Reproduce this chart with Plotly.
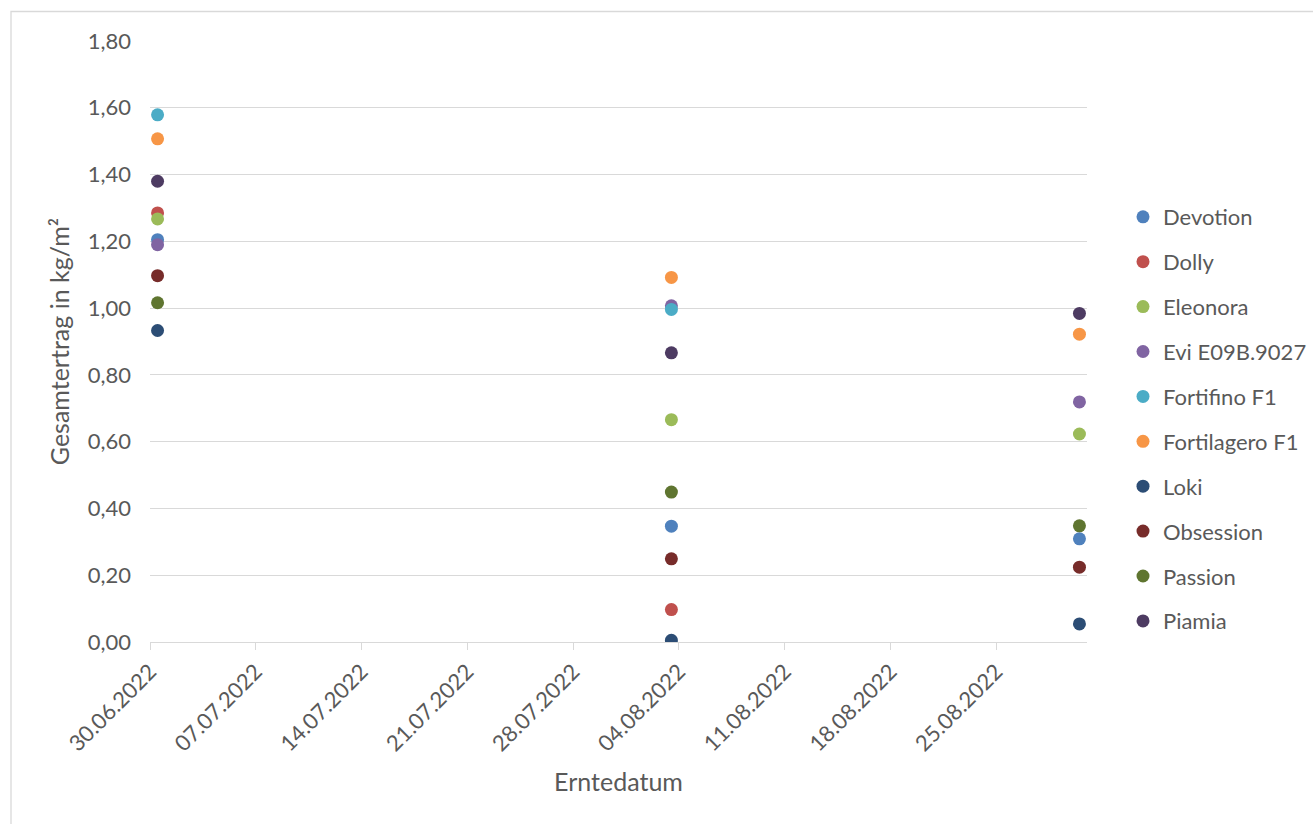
import pandas as pd
import plotly.graph_objects as go

# Harvest dates and total yield (kg/m²) per variety
harvest_dates = ["2022-06-30", "2022-08-03", "2022-08-30"]

varieties = [
    "Devotion", "Dolly", "Eleonora", "Evi E09B.9027", "Fortifino F1",
    "Fortilagero F1", "Loki", "Obsession", "Passion", "Piamia",
]

devotion = [1.205, 0.347, 0.309]
dolly = [1.285, 0.097, None]
eleonora = [1.267, 0.666, 0.623]
evi = [1.190, 1.007, 0.719]
fortifino = [1.579, 0.996, None]
fortilagero = [1.507, 1.092, 0.922]
loki = [0.933, 0.005, 0.054]
obsession = [1.097, 0.249, 0.224]
passion = [1.016, 0.449, 0.348]
piamia = [1.380, 0.866, 0.984]

series = [devotion, dolly, eleonora, evi, fortifino,
          fortilagero, loki, obsession, passion, piamia]

colors = ["#4F81BD", "#C0504D", "#9BBB59", "#8064A2", "#4BACC6",
          "#F79646", "#2C4D75", "#772C2A", "#5F7530", "#4D3B62"]

# Points sit in the middle of their day on the date axis
x_dates = pd.to_datetime(harvest_dates) + pd.Timedelta(hours=12)

FONT = "Lato"
TXT = "#595959"
GRID = "#D9D9D9"

W, H = 1313, 824
ML, MR, MT, MB = 150, 226, 41, 182
PW, PH = W - ML - MR, H - MT - MB

fig = go.Figure()
for name, vals, col in zip(varieties, series, colors):
    fig.add_trace(go.Scatter(
        x=x_dates, y=vals, mode="markers", name=name,
        legendgroup=name,
        marker=dict(size=13, color=col, line=dict(width=0)),
    ))

# light frame around the chart area
fig.add_shape(type="rect", xref="paper", yref="paper",
              x0=(11 - ML) / PW, x1=(W + 20 - ML) / PW,
              y0=(H - MB - (H + 20)) / PH, y1=(H - MB - 11.5) / PH,
              line=dict(color=GRID, width=1.3), fillcolor="rgba(0,0,0,0)",
              layer="below")

fig.update_layout(
    width=W, height=H,
    margin=dict(l=ML, r=MR, t=MT, b=MB, autoexpand=False),
    paper_bgcolor="white", plot_bgcolor="white",
    separators=",.",
    font=dict(family=FONT, size=22, color=TXT),
    showlegend=True,
    legend=dict(
        x=(1123 - ML) / PW, xanchor="left",
        y=(H - MB - 196) / PH, yanchor="top",
        font=dict(family=FONT, size=22, color=TXT),
        tracegroupgap=13.3, itemclick=False,
        bgcolor="rgba(0,0,0,0)",
    ),
    xaxis=dict(
        type="date",
        range=["2022-06-30", "2022-08-31"],
        tick0="2022-06-30", dtick=7 * 24 * 3600 * 1000,
        tickformat="%d.%m.%Y", tickangle=-45,
        showgrid=False, zeroline=False,
        showline=True, linecolor=GRID, linewidth=1.3,
        ticks="outside", ticklen=7, tickcolor=GRID, tickwidth=1.3,
        tickfont=dict(family=FONT, size=22, color=TXT),
        title=dict(text="Erntedatum", font=dict(family=FONT, size=25, color=TXT),
                   standoff=18),
    ),
    yaxis=dict(
        range=[0, 1.8], dtick=0.2, tick0=0, tickformat=".2f",
        showgrid=True, gridcolor=GRID, gridwidth=1.3,
        zeroline=False, showline=False, ticks="",
        ticklabelstandoff=18,
        tickfont=dict(family=FONT, size=22, color=TXT),
        title=dict(text="Gesamtertrag in kg/m²",
                   font=dict(family=FONT, size=25, color=TXT), standoff=10),
    ),
)

fig.write_html("out.html")
